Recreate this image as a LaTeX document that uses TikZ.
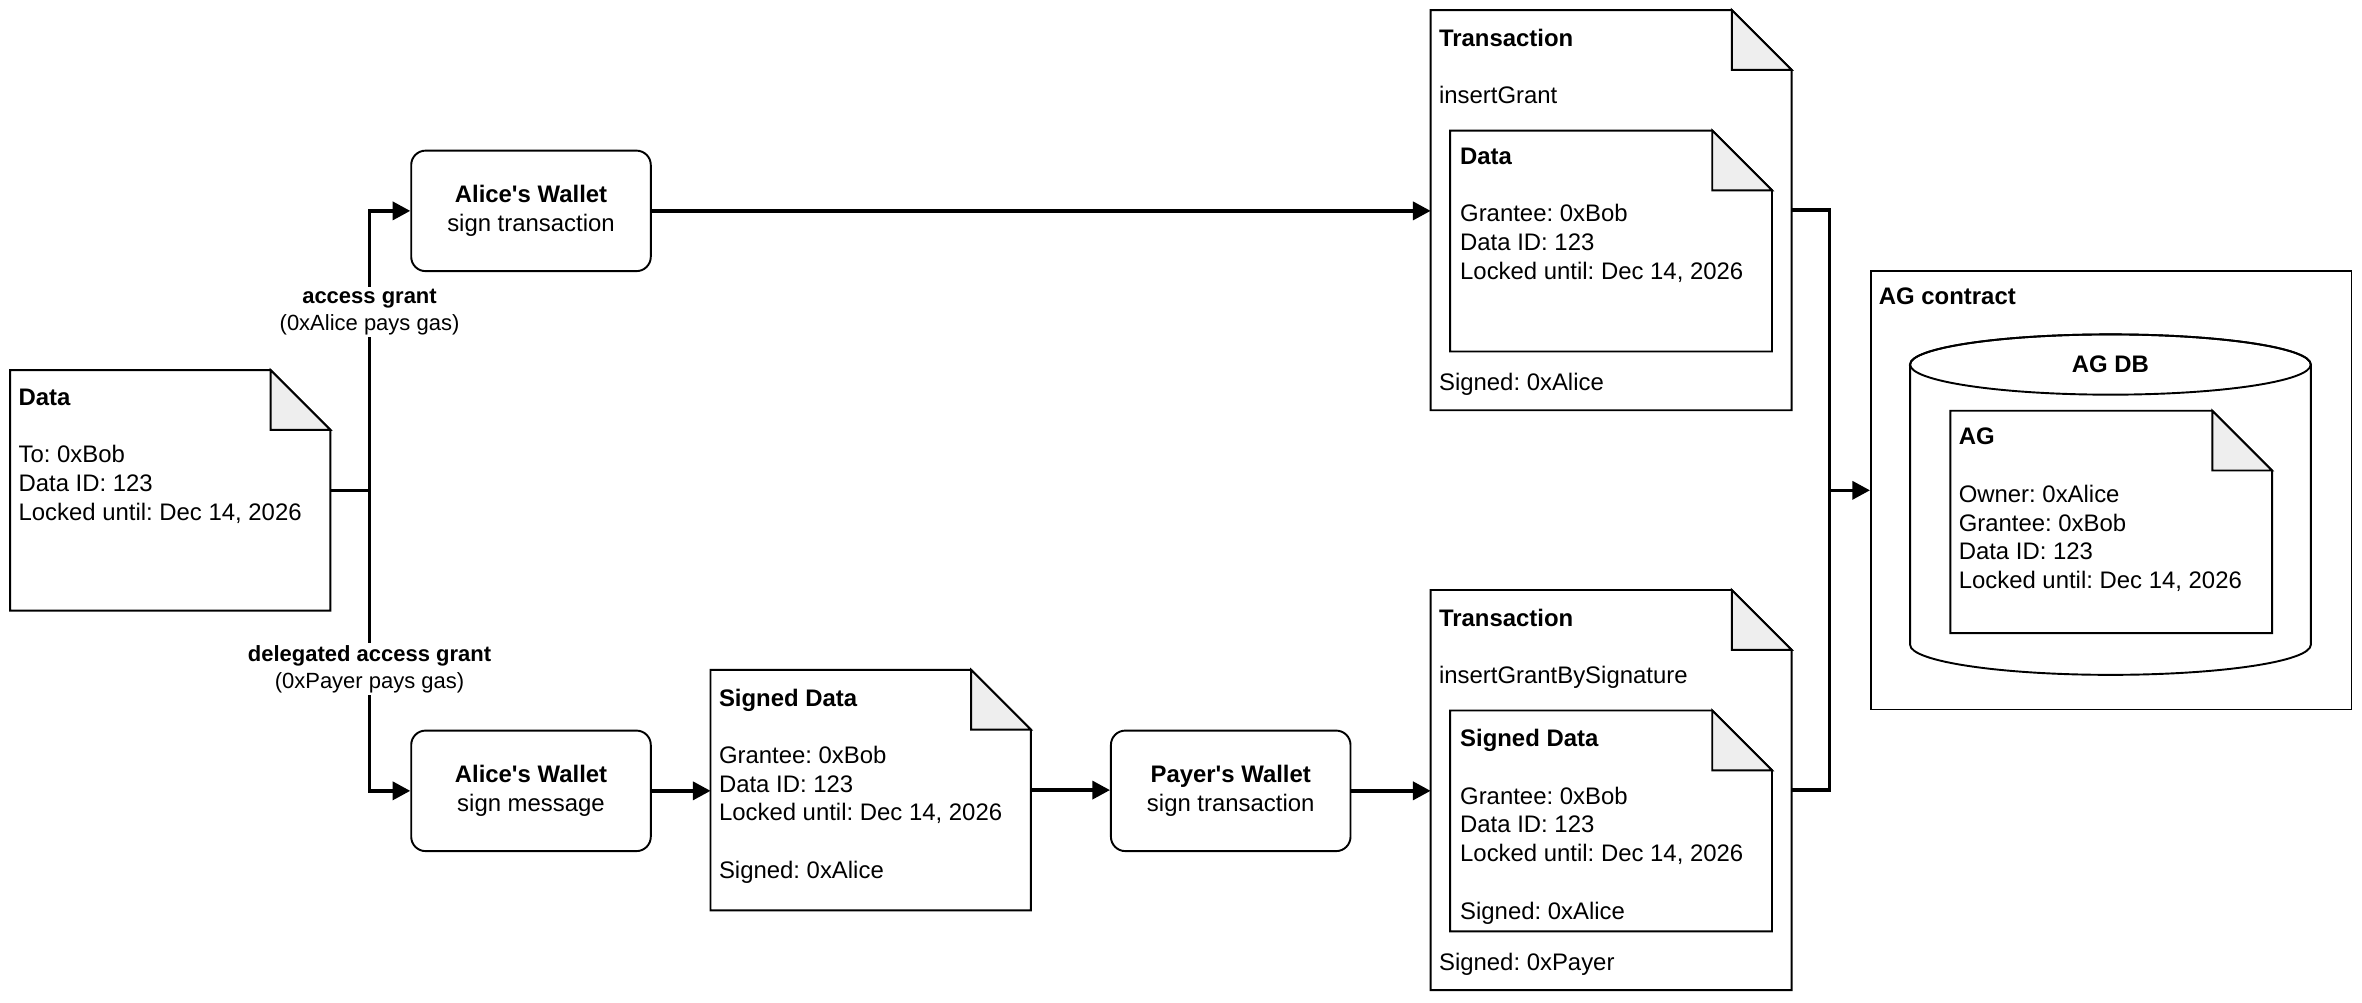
\documentclass[tikz,border=0pt]{standalone}
\usepackage{fontspec}
\defaultfontfeatures[\rmfamily]{}
\setmainfont{Liberation Sans}
\usetikzlibrary{arrows.meta,fit,calc}
\definecolor{foldgray}{HTML}{EEEEEE}
\frenchspacing

\begin{document}
\begin{tikzpicture}[x=0.63pt,y=-0.63pt,
    font=\fontsize{10}{12}\selectfont,
    doc/.style={inner sep=0pt,fit={#1}},
    box/.style={draw,line width=0.8pt,inner sep=0pt,fit={#1}},
    wallet/.style={draw,line width=0.8pt,rounded corners=6pt,minimum width=100.2pt,minimum height=50.4pt,align=center,inner sep=0pt},
    txt/.style={anchor=north west,align=left,inner sep=0pt},
    one/.style={anchor=west,inner sep=0pt},
    lbl/.style={fill=white,align=center,inner sep=1pt,font=\fontsize{9.2}{11.3}\selectfont},
    link/.style={line width=1.4pt},
    flow/.style={link,-{Triangle[length=7.4pt,width=7.6pt]}}]
\useasboundingbox (0,0) rectangle (1568,665.2);

% documents
\node[doc={(7,246) (219,405)}] (data) {};
\node[doc={(950,7) (1189,272)}] (txA) {};
\node[doc={(963,87) (1176,233)}] (txAdata) {};
\node[doc={(472,445) (684,604)}] (sigData) {};
\node[doc={(950,392) (1189,657)}] (txB) {};
\node[doc={(963,472) (1176,618)}] (txBdata) {};
\node[box={(1242,180) (1561,471)}] (agc) {};
\node[doc={(1295,273) (1508,420)}] (agDoc) {};

% AG DB cylinder
\draw[line width=0.8pt,fill=white] (1268,242) -- (1268,428)
    arc[start angle=180,end angle=360,x radius=83.8pt,y radius=12.6pt] -- (1534,242)
    arc[start angle=0,end angle=180,x radius=83.8pt,y radius=12.6pt] -- cycle;
\draw[line width=0.8pt] (1401,242) ellipse[x radius=83.8pt,y radius=12.6pt];

\foreach \d in {data,txA,txAdata,sigData,txB,txBdata,agDoc}
{
    \draw[line width=0.8pt,fill=white] (\d.north west) -- ([xshift=-25pt]\d.north east)
        -- ([yshift=-25pt]\d.north east) -- (\d.south east) -- (\d.south west) -- cycle;
    \draw[line width=0.8pt,fill=foldgray] ([xshift=-25pt]\d.north east)
        |- ([yshift=-25pt]\d.north east) -- cycle;
}

% texts
\node[txt] (dataT) at (12,258) {\textbf{Data}\\[12pt]To: 0xBob\\Data ID: 123\\Locked until: Dec 14, 2026};
\node[txt] (txAT) at (955,19) {\textbf{Transaction}\\[12pt]insertGrant};
\node[txt] (txAdataT) at (969,98) {\textbf{Data}\\[12pt]Grantee: 0xBob\\Data ID: 123\\Locked until: Dec 14, 2026};
\node[one] (txAsig) at (955,255) {Signed: 0xAlice};
\node[txt] (sigDataT) at (477,457) {\textbf{Signed Data}\\[12pt]Grantee: 0xBob\\Data ID: 123\\Locked until: Dec 14, 2026\\[12pt]Signed: 0xAlice};
\node[txt] (txBT) at (955,404) {\textbf{Transaction}\\[12pt]insertGrantBySignature};
\node[txt] (txBdataT) at (969,484) {\textbf{Signed Data}\\[12pt]Grantee: 0xBob\\Data ID: 123\\Locked until: Dec 14, 2026\\[12pt]Signed: 0xAlice};
\node[one] (txBsig) at (955,640) {Signed: 0xPayer};
\node[one] (agcT) at (1247,197) {\textbf{AG contract}};
\node[inner sep=0pt] (agdbT) at (1401,242) {\textbf{AG DB}};
\node[txt] (agDocT) at (1300,284) {\textbf{AG}\\[12pt]Owner: 0xAlice\\Grantee: 0xBob\\Data ID: 123\\Locked until: Dec 14, 2026};

% wallets
\node[wallet] (aliceA) at (352.5,140) {\textbf{Alice's Wallet}\\sign transaction};
\node[wallet] (aliceB) at (352.5,525) {\textbf{Alice's Wallet}\\sign message};
\node[wallet] (payer) at (817,525) {\textbf{Payer's Wallet}\\sign transaction};

% connectors
\coordinate (split) at ($(data.east)+(26,0)$);
\coordinate (join) at ([xshift=-17pt]agc.west);
\draw[link] (data.east) -- (split);
\draw[flow] (split) |- node[lbl,pos=.319] (lblA) {\textbf{access grant}\\(0xAlice pays gas)} (aliceA.west);
\draw[flow] (split) |- node[lbl,pos=.297] (lblB) {\textbf{delegated access grant}\\(0xPayer pays gas)} (aliceB.west);
\draw[flow] (aliceA.east) -- (aliceA.east -| txA.west);
\draw[flow] (aliceB.east) -- (aliceB.east -| sigData.west);
\draw[flow] (sigData.east) -- (sigData.east -| payer.west);
\draw[flow] (payer.east) -- (payer.east -| txB.west);
\draw[link] (txA.east) -| (join);
\draw[link] (txB.east) -| (join);
\draw[flow] (join) -- (agc.west);
\end{tikzpicture}
\end{document}
